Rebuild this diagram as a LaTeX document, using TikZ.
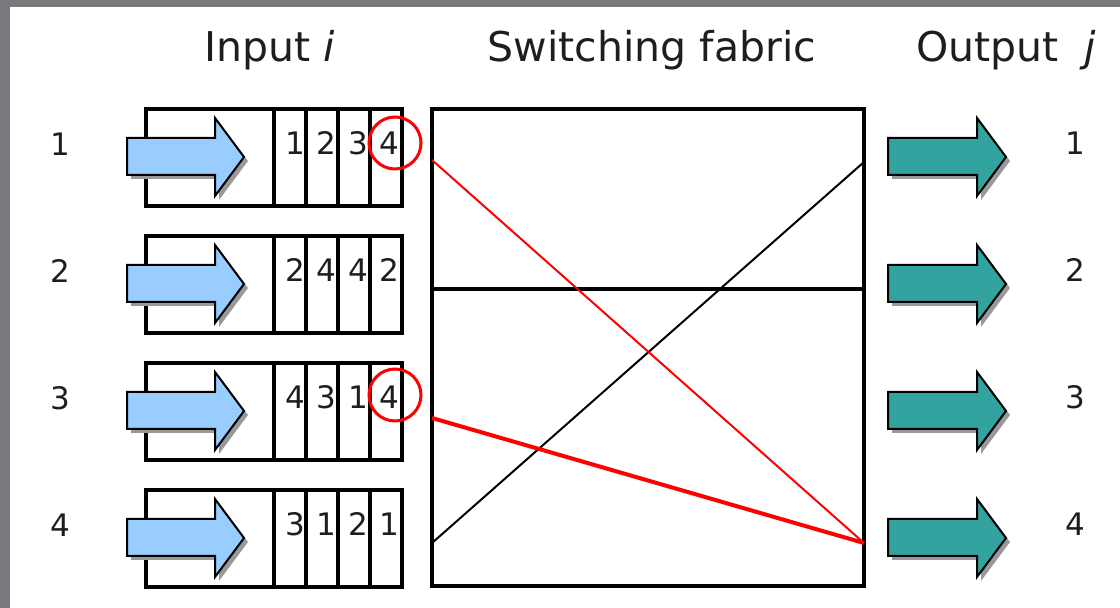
\documentclass[tikz,border=0pt]{standalone}
\usepackage{fontspec}
\setmainfont{DejaVu Sans}
\definecolor{inblue}{RGB}{153,204,255}
\definecolor{outteal}{RGB}{51,163,160}
\definecolor{edgegrey}{RGB}{122,120,125}
\definecolor{inkgrey}{RGB}{30,30,30}
\begin{document}
\begin{tikzpicture}[x=0.5pt,y=-0.5pt,
  frame/.style={draw=black,line width=2pt},
  cellnum/.style={font=\fontsize{15.5}{18}\selectfont,text=inkgrey,inner sep=0pt},
  portnum/.style={font=\fontsize{15.5}{18}\selectfont,text=inkgrey,inner sep=0pt},
  title/.style={font=\fontsize{20.5}{24}\selectfont,text=inkgrey,anchor=base,inner sep=0pt},
  pick/.style={draw=red,line width=1.5pt,circle,minimum size=26pt,inner sep=0pt},
  shadowfill/.style={fill=black!40},
  inarrow/.style={fill=inblue,draw=black,line width=1pt,line join=miter},
  outarrow/.style={fill=outteal,draw=black,line width=1pt,line join=miter},
  link/.style={draw=black,line width=1pt},
  redlink/.style={draw=red,line width=1pt},
  redthick/.style={draw=red,line width=2pt}
]
% page and grey edge strips
\useasboundingbox (0,0) rectangle (1120,608);
\fill[white] (0,0) rectangle (1120,608);
\fill[edgegrey] (0,0) rectangle (10,608);
\fill[edgegrey] (0,0) rectangle (1120,7);

% column titles
\node[title] (tin) at (270,62) {Input \textit{i}};
\node[title] (tsw) at (652,62) {Switching fabric};
\node[title] (tout) at (1006,62) {Output\ \ \textit{j}};

% input queues, input arrows, output arrows and port numbers
\foreach \k/\a/\b/\c/\d in {1/1/2/3/4, 2/2/4/4/2, 3/4/3/1/4, 4/3/1/2/1}{
  \pgfmathsetmacro{\yc}{157+127*(\k-1)}
  % queue frame with four cells
  \draw[frame] (146,\yc-48) rectangle (402,\yc+49);
  \foreach \xx in {274,306,338,370}{
    \draw[frame] (\xx,\yc-48) -- (\xx,\yc+49);
  }
  \node[cellnum] (q\k a) at (295,\yc-14) {\a};
  \node[cellnum] (q\k b) at (326,\yc-14) {\b};
  \node[cellnum] (q\k c) at (358,\yc-14) {\c};
  \node[cellnum] (q\k d) at (389,\yc-14) {\d};
  % input arrow with drop shadow
  \begin{scope}[shift={(127,\yc)}]
    \fill[shadowfill] (4,-15) -- (92,-15) -- (92,-35) -- (121,4) -- (92,43) -- (92,22) -- (4,22) -- cycle;
    \path[inarrow] (0,-19) -- (88,-19) -- (88,-39) -- (117,0) -- (88,39) -- (88,18) -- (0,18) -- cycle;
  \end{scope}
  % output arrow with drop shadow
  \begin{scope}[shift={(888,\yc)}]
    \fill[shadowfill] (4,-15) -- (93,-15) -- (93,-35) -- (122,4) -- (93,43) -- (93,22) -- (4,22) -- cycle;
    \path[outarrow] (0,-19) -- (89,-19) -- (89,-39) -- (118,0) -- (89,39) -- (89,18) -- (0,18) -- cycle;
  \end{scope}
  \node[portnum] (pin\k) at (60,\yc-13) {\k};
  \node[portnum] (pout\k) at (1075,\yc-14) {\k};
}

% head-of-line cells selected for transfer
\node[pick] (sel1) at (395,143) {};
\node[pick] (sel3) at (395,395) {};

% switching fabric
\draw[frame] (432,109) rectangle (864,586);
\coordinate (fl) at (432,289);
\coordinate (fr) at (864,289);
\draw[frame] (fl) -- (fr);
\coordinate (in1) at (432,160);
\coordinate (in3) at (432,418);
\coordinate (in4) at (432,543);
\coordinate (out1) at (864,162);
\coordinate (out4) at (864,543);
\draw[link] (in4) -- (out1);
\draw[redlink] (in1) -- (out4);
\draw[redthick] (in3) -- (out4);
\end{tikzpicture}
\end{document}
